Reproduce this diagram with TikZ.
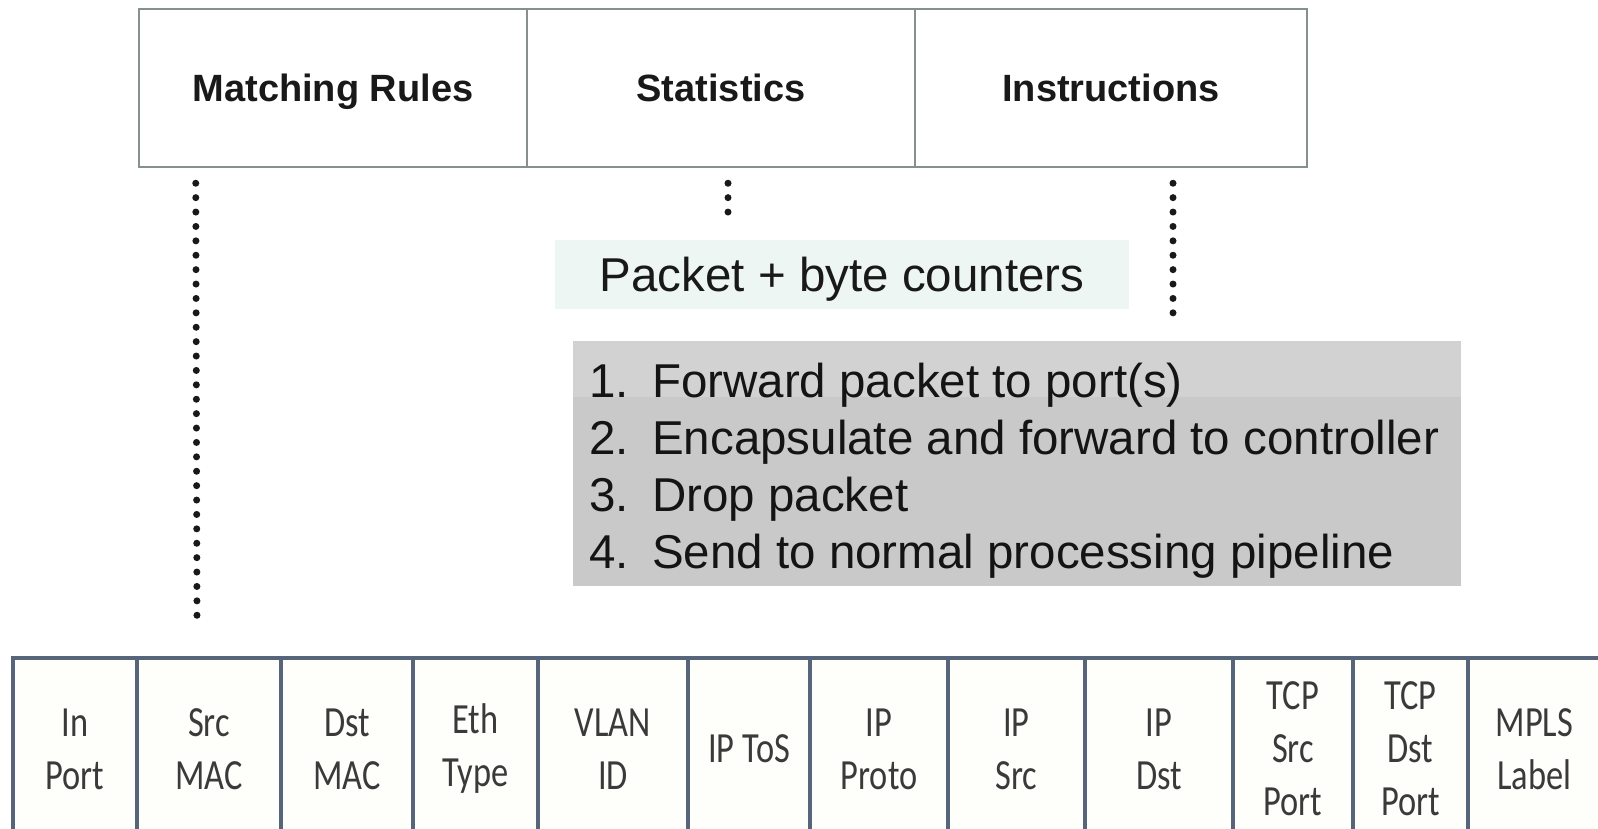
\documentclass[tikz,border=0pt]{standalone}
\usepackage{fontspec}
\setmainfont{Liberation Sans}
\newfontfamily\cellfont[FakeStretch=0.8]{Carlito}
\usetikzlibrary{calc}
\definecolor{topline}{HTML}{879090}
\definecolor{cellline}{HTML}{56657A}
\definecolor{celltext}{HTML}{3A3A3A}
\definecolor{pkfill}{HTML}{EDF6F3}
\definecolor{insfill}{HTML}{C9C9C9}
\definecolor{insband}{HTML}{D2D2D2}
\definecolor{cellfill}{HTML}{FEFEFB}
\tikzset{
  topcell/.style={draw=topline, line width=2.5pt, fill=white, minimum height=158pt, inner sep=0pt,
    text height=27pt, text depth=0pt,
    font=\fontsize{38}{46}\selectfont\bfseries, text=black!90},
  pkbox/.style={fill=pkfill, minimum width=574pt, minimum height=69pt, inner sep=0pt,
    text height=34pt, text depth=0pt,
    font=\fontsize{47.5}{57}\selectfont, text=black!90},
  insbox/.style={fill=insfill, minimum width=888pt, minimum height=245pt, inner sep=0pt},
  insline/.style={anchor=base west, inner sep=0pt, font=\fontsize{47.5}{57}\selectfont, text=black!92},
  cell/.style={draw=cellline, line width=3.5pt, fill=cellfill, minimum height=182pt, inner sep=0pt,
    align=center, font=\cellfont\fontsize{43}{53}\selectfont, text=celltext},
  dotline/.style={line width=7pt, line cap=round, dash pattern=on 0pt off 14.4pt, black!90}
}
\begin{document}
\begin{tikzpicture}[x=1pt,y=-1pt]
\useasboundingbox (0,0) rectangle (1598,829);
\fill[white] (0,0) rectangle (1598,829);

% top table
\node[topcell, minimum width=388pt] (mr) at (333,88) {Matching Rules};
\node[topcell, minimum width=388pt] (st) at (721,88) {Statistics};
\node[topcell, minimum width=392pt] (in) at (1111,88) {Instructions};

% statistics box
\node[pkbox] (pk) at (842,274.5) {Packet + byte counters};

% instructions box
\node[insbox] (ins) at (1017,463.5) {};
\fill[insband] (ins.north west) rectangle ($(ins.north east)+(0,56)$);
\foreach \n/\t [count=\k from 0] in {1./Forward packet to port(s),
  2./Encapsulate and forward to controller,
  3./Drop packet,
  4./Send to normal processing pipeline}{
  \node[insline] (ins\k) at (589,{397+57*\k}) {\makebox[63pt][l]{\n}\t};
}

% header fields
\foreach \l/\r/\t [count=\i] in {
  13/137/In\\Port, 137/281/Src\\MAC, 281/413/Dst\\MAC, 413/538/Eth\\Type,
  538/688/VLAN\\ID, 688/810/IP ToS, 810/948/IP\\Proto, 948/1085/IP\\Src,
  1085/1233/IP\\Dst, 1233/1353/TCP\\Src\\Port, 1353/1468/TCP\\Dst\\Port,
  1468/1601/MPLS\\Label}{
  \node[cell, minimum width={(\r-\l)*1pt}] (c\i) at ({(\l+\r)/2},749) {\t};
}

% dotted connectors
\coordinate (mrend) at (197,617);
\draw[dotline] ($(mr.south west)+(58,15)$) -- (mrend);
\draw[dotline] ($(st.south)+(7,15)$) -- ($(pk.north)+(-114,-14)$);
\draw[dotline] ($(in.south)+(62,15)$) -- ($(ins.north)+(156,-15)$);
\end{tikzpicture}
\end{document}
